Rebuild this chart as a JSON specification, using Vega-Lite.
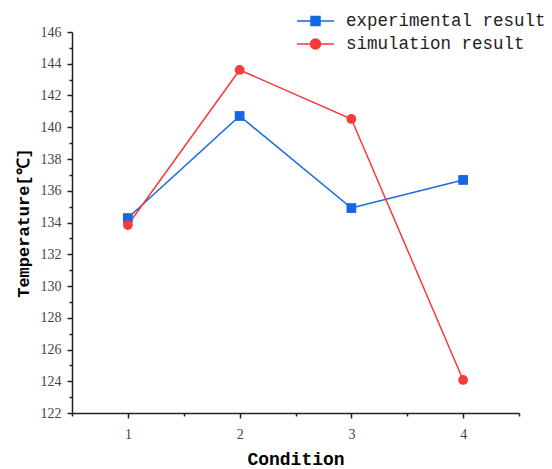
{
  "$schema": "https://vega.github.io/schema/vega-lite/v6.json",
  "width": 447,
  "height": 381,
  "autosize": "none",
  "padding": {"left": 72, "top": 32, "right": 33, "bottom": 56},
  "background": "white",
  "config": {"view": {"stroke": null}},
  "data": {"values": [
    {"condition": 1, "temp": 134.28, "series": "experimental result"},
    {"condition": 2, "temp": 140.71, "series": "experimental result"},
    {"condition": 3, "temp": 134.91, "series": "experimental result"},
    {"condition": 4, "temp": 136.68, "series": "experimental result"},
    {"condition": 1, "temp": 133.84, "series": "simulation result"},
    {"condition": 2, "temp": 143.61, "series": "simulation result"},
    {"condition": 3, "temp": 140.52, "series": "simulation result"},
    {"condition": 4, "temp": 124.08, "series": "simulation result"}
  ]},
  "encoding": {
    "x": {"field": "condition", "type": "quantitative",
      "scale": {"domain": [0.5, 4.5], "nice": false, "zero": false},
      "axis": {"title": "Condition", "values": [0.5, 1, 1.5, 2, 2.5, 3, 3.5, 4, 4.5],
        "labelExpr": "datum.value % 1 === 0 ? format(datum.value, 'd') : ''",
        "grid": false, "domainColor": "#222", "domainWidth": 1.5,
        "tickColor": "#222", "tickWidth": 1.5,
        "tickSize": {"condition": {"test": "datum.value % 1 !== 0", "value": 3}, "value": 5},
        "labelFont": "Liberation Serif", "labelFontSize": 14, "labelColor": "#444", "labelPadding": 9,
        "titleFont": "Liberation Mono", "titleFontSize": 18, "titleFontWeight": "bold", "titleColor": "#000", "titlePadding": 9}},
    "y": {"field": "temp", "type": "quantitative",
      "scale": {"domain": [122, 146], "nice": false, "zero": false},
      "axis": {"title": "Temperature[℃]", "values": [122,123,124,125,126,127,128,129,130,131,132,133,134,135,136,137,138,139,140,141,142,143,144,145,146],
        "labelExpr": "datum.value % 2 === 0 ? datum.label : ''",
        "grid": false, "domainColor": "#222", "domainWidth": 1.5,
        "tickColor": "#222", "tickWidth": 1.5,
        "tickSize": {"condition": {"test": "datum.value % 2 !== 0", "value": 3}, "value": 5},
        "labelFont": "Liberation Serif", "labelFontSize": 14, "labelColor": "#444", "labelPadding": 6,
        "titleFont": "Liberation Mono", "titleFontSize": 17, "titleFontWeight": "bold", "titleColor": "#000", "titlePadding": 8}},
    "color": {"field": "series", "type": "nominal",
      "scale": {"domain": ["experimental result", "simulation result"], "range": ["#1668e2", "#f73a3a"]},
      "legend": {"title": null, "orient": "none", "legendX": 232.5, "legendY": -22, "padding": 0,
        "symbolSize": 400, "labelOffset": 19.5, "rowPadding": 3, "labelLimit": 400,
        "labelFont": "Liberation Mono", "labelFontSize": 17.5, "labelColor": "#222",
        "symbolStrokeWidth": 1.5,
        "encode": {"symbols": {"update": {
          "shape": {"signal": "datum.value === 'experimental result' ? 'M-1.85,0H1.85M-0.45,-0.45H0.45V0.45H-0.45Z' : 'M-1.85,0H1.85M-0.5,0A0.5,0.5 0 1 0 0.5,0A0.5,0.5 0 1 0 -0.5,0Z'"},
          "fill": {"signal": "datum.value === 'experimental result' ? '#1668e2' : '#f73a3a'"},
          "stroke": {"signal": "datum.value === 'experimental result' ? '#1668e2' : '#f73a3a'"},
          "opacity": {"value": 1}, "fillOpacity": {"value": 1}, "strokeWidth": {"value": 1.5}
        }}}}}
  },
  "layer": [
    {"mark": {"type": "line", "strokeWidth": 1.5}},
    {"mark": {"type": "point", "filled": true, "opacity": 1, "size": 95},
     "encoding": {"shape": {"condition": {"test": "datum.series === 'simulation result'", "value": "circle"}, "value": "square"}}}
  ]
}
